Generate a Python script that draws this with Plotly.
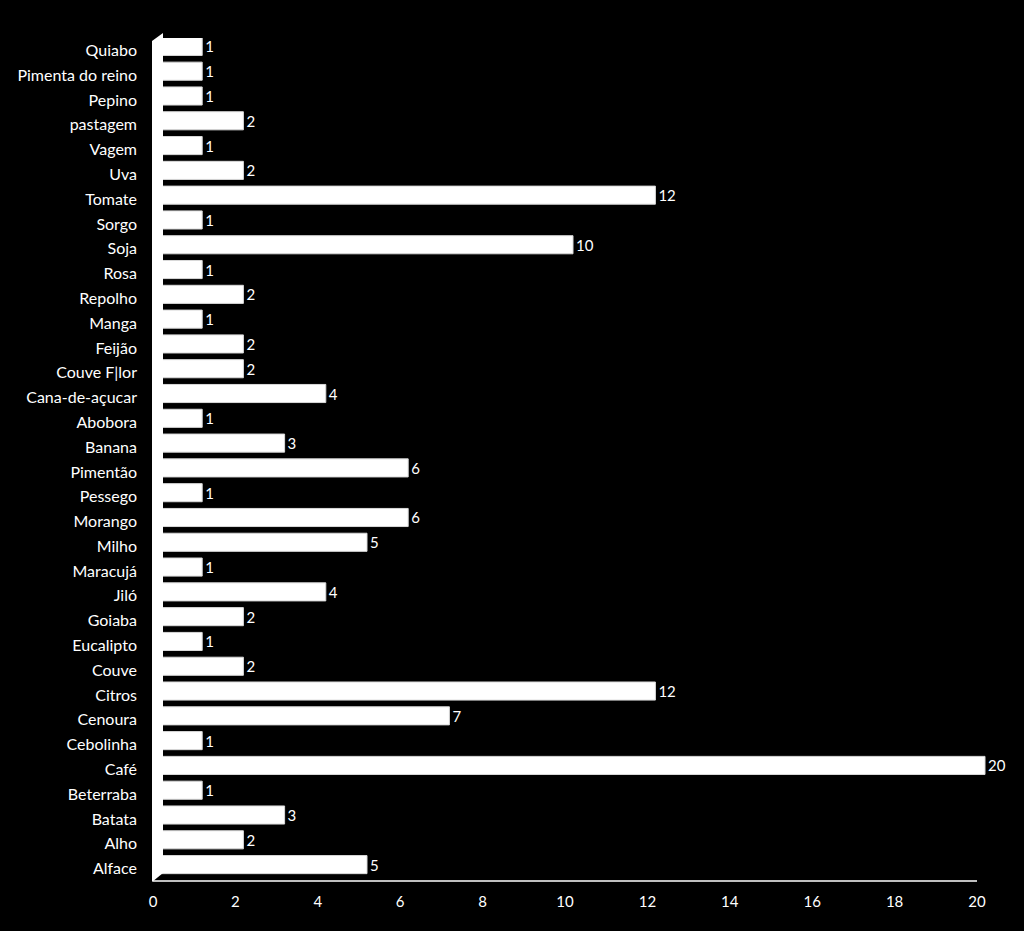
import plotly.graph_objects as go

categories = ["Alface", "Alho", "Batata", "Beterraba", "Café", "Cebolinha", "Cenoura",
              "Citros", "Couve", "Eucalipto", "Goiaba", "Jiló", "Maracujá", "Milho",
              "Morango", "Pessego", "Pimentão", "Banana", "Abobora", "Cana-de-açucar",
              "Couve F|lor", "Feijão", "Manga", "Repolho", "Rosa", "Soja", "Sorgo",
              "Tomate", "Uva", "Vagem", "pastagem", "Pepino", "Pimenta do reino", "Quiabo"]
values = [5, 2, 3, 1, 20, 1, 7, 12, 2, 1, 2, 4, 1, 5, 6, 1, 6, 3, 1, 4,
          2, 2, 1, 2, 1, 10, 1, 12, 2, 1, 2, 1, 1, 1]
x_ticks = [0, 2, 4, 6, 8, 10, 12, 14, 16, 18, 20]

FONT = "Lato, 'Open Sans', sans-serif"
W, H = 1024, 931
L, R, T, B = 153, 30, 38, 50
pw, ph = W - L - R, H - T - B
unit = (977 - 153) / 20.0          # pixels per x unit
xmax = pw / unit                   # axis range covering full plot width
n = len(categories)

def px(x):
    return (x - L) / pw

def py(y):
    return (H - B - y) / ph

shift = 8 / unit
yshift = 4 / (ph / n)

fig = go.Figure()
# invisible trace to anchor the tick axes
fig.add_trace(go.Scatter(x=[0, 20], y=[0, n - 1], mode="markers",
                         marker=dict(opacity=0), hoverinfo="skip"))
fig.add_trace(go.Bar(
    x=values, y=categories, orientation="h", xaxis="x2", yaxis="y2",
    marker=dict(color="#ffffff", line=dict(color="#d9d9d9", width=1)),
    text=[str(v) for v in values], textposition="outside",
    textfont=dict(color="#ffffff", size=15, family=FONT),
    cliponaxis=False,
))

fig.update_layout(
    width=W, height=H,
    margin=dict(l=L, r=R, t=T, b=B),
    paper_bgcolor="#000000", plot_bgcolor="#000000",
    bargap=0.27, showlegend=False,
    xaxis=dict(range=[0, xmax], tickvals=x_ticks, showgrid=False,
               zeroline=False, showline=False, ticks="", ticklabelstandoff=10,
               tickfont=dict(color="#ffffff", size=15, family=FONT)),
    yaxis=dict(range=[-0.5, n - 0.5], tickvals=list(range(n)), ticktext=categories,
               showgrid=False, zeroline=False, showline=False, ticks="",
               ticklabelstandoff=15,
               tickfont=dict(color="#ffffff", size=16, family=FONT)),
    xaxis2=dict(range=[-shift, xmax - shift], overlaying="x", visible=False),
    yaxis2=dict(categoryorder="array", categoryarray=categories,
                range=[-0.5 - yshift, n - 0.5 - yshift], overlaying="y", visible=False),
    shapes=[
        dict(type="line", xref="paper", yref="paper",
             x0=px(153), x1=px(977), y0=py(881), y1=py(881),
             line=dict(color="#bfbfbf", width=2)),
        dict(type="path", xref="paper", yref="paper",
             path=f"M {px(152)},{py(41)} L {px(163)},{py(33)} L {px(163)},{py(873)} "
                  f"L {px(152)},{py(882)} Z",
             fillcolor="#ffffff", line=dict(width=0)),
    ],
)

fig.write_html("out.html")
